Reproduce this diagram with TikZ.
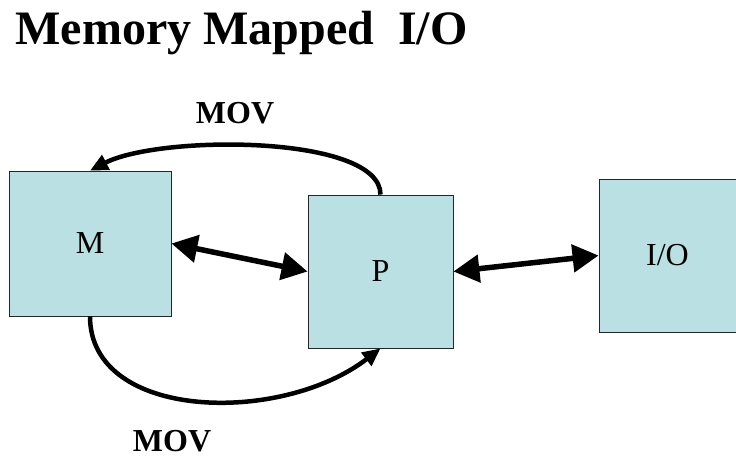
\documentclass[tikz,border=0pt]{standalone}
\usepackage{fontspec}
\setmainfont{Liberation Serif}
\usetikzlibrary{arrows.meta}
\definecolor{boxfill}{RGB}{187,224,227}
\begin{document}
\begin{tikzpicture}[x=1pt,y=1pt,
  unit/.style={draw=black!85,line width=0.8pt,fill=boxfill,inner sep=0pt,
    font=\fontsize{32}{38}\selectfont},
  link/.style={line width=5.5pt,{Triangle[length=26pt,width=27pt]}-{Triangle[length=26pt,width=27pt]}},
  move/.style={line width=4.5pt,-{Triangle[length=18pt,width=16pt]}},
  movlabel/.style={font=\fontsize{32}{38}\selectfont\bfseries}]
\useasboundingbox (0,0) rectangle (736,459);
\node[anchor=base west,font=\fontsize{48}{56}\selectfont\bfseries] (title) at (12,414) {Memory Mapped~~I/O};
\node[unit,minimum width=162,minimum height=145] (M) at (90,215.5) {M};
\node[unit,minimum width=145,minimum height=153] (P) at (380.5,187.5) {P};
\node[unit,minimum width=137,minimum height=153] (IO) at (667.5,203.5) {I/O};
\draw[link] (M.east) -- (P.west);
\draw[link] (P.east) -- (IO.west);
\draw[move] (P.north) .. controls +(0,60) and +(70,36) .. (M.north);
\draw[move] (M.south) .. controls +(0,-104) and +(-100,-77) .. (P.south);
\node[movlabel] (movtop) at (235,346) {MOV};
\node[movlabel] (movbottom) at (172,18) {MOV};
\end{tikzpicture}
\end{document}
